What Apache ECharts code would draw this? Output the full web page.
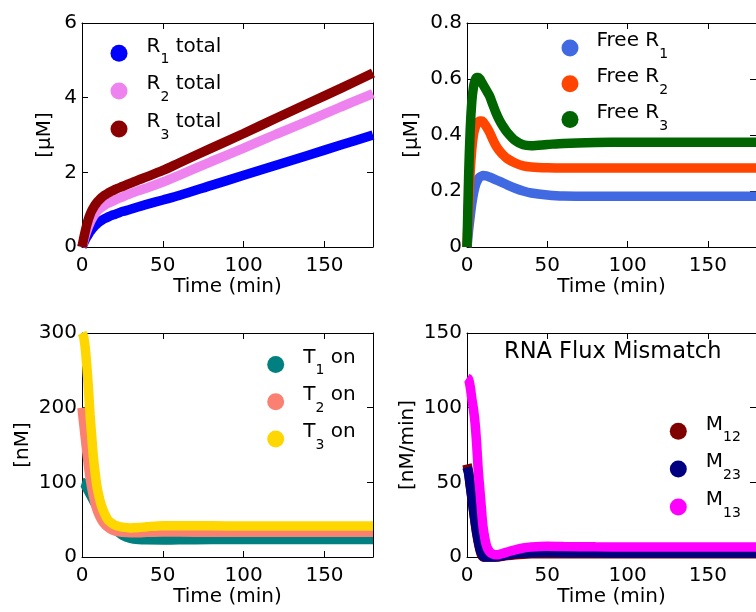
<!DOCTYPE html>
<html><head><meta charset="utf-8">
<script src="https://cdn.jsdelivr.net/npm/echarts@6/dist/echarts.min.js"></script>
<style>html,body{margin:0;padding:0;background:#fff}#c{width:756px;height:612px}</style>
</head><body><div id="c"></div>
<script>
// ---- data (time in min) ----
const time = [0,1,2,3,4,5,6,7,8,9,10,12,14,16,18,20,22,25,30,35,40,50,60,80,100,120,140,160,180];

// total R (uM)
const r1Total = [0,0.1,0.19,0.27,0.34,0.41,0.47,0.52,0.57,0.61,0.65,0.71,0.76,0.8,0.84,0.87,0.9,0.95,1.01,1.08,1.14,1.26,1.38,1.65,1.92,2.19,2.46,2.73,3.0];
const r2Total = [0,0.15,0.3,0.43,0.55,0.65,0.74,0.82,0.88,0.94,0.99,1.06,1.12,1.17,1.21,1.25,1.29,1.34,1.43,1.51,1.58,1.74,1.92,2.29,2.65,3.02,3.38,3.75,4.11];
const r3Total = [0,0.22,0.42,0.6,0.75,0.87,0.97,1.05,1.12,1.18,1.23,1.32,1.39,1.44,1.49,1.53,1.57,1.62,1.71,1.8,1.88,2.05,2.25,2.65,3.04,3.45,3.85,4.25,4.66];

// free R (uM)
const freeR1 = [0,0.06,0.11,0.155,0.19,0.215,0.232,0.243,0.25,0.253,0.255,0.254,0.25,0.245,0.24,0.235,0.23,0.222,0.21,0.2,0.193,0.186,0.182,0.181,0.181,0.181,0.181,0.181,0.181];
const freeR2 = [0,0.15,0.27,0.35,0.4,0.425,0.44,0.447,0.45,0.45,0.447,0.43,0.41,0.385,0.362,0.345,0.332,0.316,0.3,0.29,0.286,0.283,0.282,0.282,0.282,0.282,0.282,0.282,0.282];
const freeR3 = [0,0.25,0.42,0.52,0.57,0.595,0.605,0.605,0.6,0.59,0.58,0.56,0.54,0.51,0.48,0.455,0.435,0.41,0.38,0.365,0.362,0.366,0.37,0.373,0.374,0.374,0.374,0.374,0.374];

// T on (nM)
const t1On = [100,99,96,92,88,84,80,76,72,68,64,57,50,45,41,37,34,29,25,23.5,23,22.8,23,23.3,23.5,23.5,23.5,23.5,23.5];
const t2On = [200,180,160,140,122,106,93,82,73,65,59,50,44,40,37,35,34,33,32.5,32.5,33,33.5,33.5,33,33,33,33,33,33];
const t3On = [300,295,280,255,225,190,162,135,115,98,86,69,58,50,46,43,41.5,40,39,39.5,40.5,42,42,41.8,41.5,41.5,41.5,41.5,41.5];

// RNA flux mismatch (nM/min)
const m12 = [62,57,48.5,40,31.5,23.5,16,10,5,1.5,0,-0.5,-0.5,-0.5,-0.3,0,0.4,0.9,1.5,1.9,2.1,2.2,2.2,2.1,2.1,2.1,2.1,2.1,2.1];
const m23 = [60,56,48,40,32,24,17,11,6,2.5,0.5,-0.5,-0.5,-0.3,0,0.4,0.8,1.4,2.1,2.6,2.9,3,2.9,2.8,2.7,2.7,2.7,2.7,2.7];
const m13 = [120,119,114,106,99,90,76,58,45,32,20,8,3.5,2,1.5,1.7,2.3,3.3,4.8,6,6.7,7.2,7,6.8,6.7,6.7,6.7,6.7,6.7];

// names / labels
const namesTL = ['R1 total','R2 total','R3 total'];
const labelsTL = ['{a|R}{s|1}{a| total}','{a|R}{s|2}{a| total}','{a|R}{s|3}{a| total}'];
const namesTR = ['Free R1','Free R2','Free R3'];
const labelsTR = ['{a|Free R}{s|1}','{a|Free R}{s|2}','{a|Free R}{s|3}'];
const namesBL = ['T1 on','T2 on','T3 on'];
const labelsBL = ['{a|T}{s|1}{a| on}','{a|T}{s|2}{a| on}','{a|T}{s|3}{a| on}'];
const namesBR = ['M12','M23','M13'];
const labelsBR = ['{a|M}{s|12}','{a|M}{s|23}','{a|M}{s|13}'];

const xName = 'Time (min)';
const yNames = ['[μM]','[μM]','[nM]','[nM/min]'];
const yMax = [6,0.8,300,150];
const yInterval = [2,0.2,100,50];
const titleText = 'RNA Flux Mismatch';

// ---- build ----
const FONT = 'DejaVu Sans';
const panels = [
  {grid:{left:82,top:23,width:291,height:224}, yGap:27, xGap:29, names:namesTL, labels:labelsTL, vals:[r1Total,r2Total,r3Total], colors:['#0000ff','#ee82ee','#8b0000'], legend:{left:105.5,top:30.3,gap:6.5,w:45}},
  {grid:{left:467,top:23,width:291,height:224}, yGap:45, xGap:29, names:namesTR, labels:labelsTR, vals:[freeR1,freeR2,freeR3], colors:['#4169e1','#ff4500','#006400'], legend:{left:556.5,top:25,gap:4.5,w:43}},
  {grid:{left:82,top:333,width:291,height:224}, yGap:49, xGap:30, names:namesBL, labels:labelsBL, vals:[t1On,t2On,t3On], colors:['#008080','#fa8072','#ffd700'], legend:{left:262.2,top:341.5,gap:6,w:45}},
  {grid:{left:467,top:333,width:291,height:224}, yGap:49, xGap:30, names:namesBR, labels:labelsBR, vals:[m12,m23,m13], colors:['#800000','#000080','#ff00ff'], legend:{left:664.8,top:408.3,gap:6.5,w:45}}
];

const txt = {color:'#000', fontSize:20, fontFamily:FONT};
const lineC = {show:true, onZero:false, lineStyle:{color:'#000', width:1}};
const tickC = {show:true, inside:true, length:6, lineStyle:{color:'#000', width:1}};
const rich = {
  a:{fontSize:20, fontFamily:FONT, color:'#000', verticalAlign:'top', height:20, padding:[1,0,0,0], lineHeight:36},
  s:{fontSize:14, fontFamily:FONT, color:'#000', verticalAlign:'top', height:14, padding:[17.3,0,0,0], lineHeight:36}
};

const grids=[], xAxes=[], yAxes=[], series=[], legends=[];
panels.forEach((p,i)=>{
  grids.push(Object.assign({containLabel:false}, p.grid));
  xAxes.push({gridIndex:i, type:'value', min:0, max:180, interval:50, position:'bottom',
    axisLine:lineC, axisTick:tickC, splitLine:{show:false},
    axisLabel:Object.assign({show:true, margin:9, showMaxLabel:false}, txt),
    name:xName, nameLocation:'middle', nameGap:p.xGap, nameTextStyle:txt});
  xAxes.push({gridIndex:i, type:'value', min:0, max:180, interval:50, position:'top',
    axisLine:lineC, axisTick:tickC, splitLine:{show:false}, axisLabel:{show:false}});
  yAxes.push({gridIndex:i, type:'value', min:0, max:yMax[i], interval:yInterval[i], position:'left',
    axisLine:lineC, axisTick:tickC, splitLine:{show:false},
    axisLabel:Object.assign({show:true, margin:5}, txt),
    name:yNames[i], nameLocation:'middle', nameGap:p.yGap, nameTextStyle:txt});
  yAxes.push({gridIndex:i, type:'value', min:0, max:yMax[i], interval:yInterval[i], position:'right',
    axisLine:lineC, axisTick:tickC, splitLine:{show:false}, axisLabel:{show:false}});
  p.names.forEach((n,k)=>{
    series.push({type:'line', name:n, xAxisIndex:2*i, yAxisIndex:2*i,
      data: time.map((t,j)=>[t, p.vals[k][j]]),
      symbol:'none', showSymbol:false, smooth:0.3,
      lineStyle:{width:9.5, color:p.colors[k]}, itemStyle:{color:p.colors[k]},
      animation:false});
  });
  const lm = {}; p.names.forEach((n,k)=>lm[n]=p.labels[k]);
  legends.push({orient:'vertical', left:p.legend.left, top:p.legend.top, itemGap:p.legend.gap,
    itemWidth:p.legend.w, itemHeight:17, icon:'circle', selectedMode:false, padding:5,
    data:p.names, formatter:n=>lm[n], itemStyle:{borderWidth:0},
    textStyle:{color:'#000', fontSize:20, fontFamily:FONT, rich:rich}});
});

const chart = echarts.init(document.getElementById('c'));
chart.setOption({
  animation:false,
  backgroundColor:'#fff',
  title:{text:titleText, left:499, top:335.5, textStyle:{color:'#000', fontSize:22.5, fontWeight:'normal', fontFamily:FONT}},
  grid:grids, xAxis:xAxes, yAxis:yAxes, legend:legends, series:series
});
</script>
</body></html>
